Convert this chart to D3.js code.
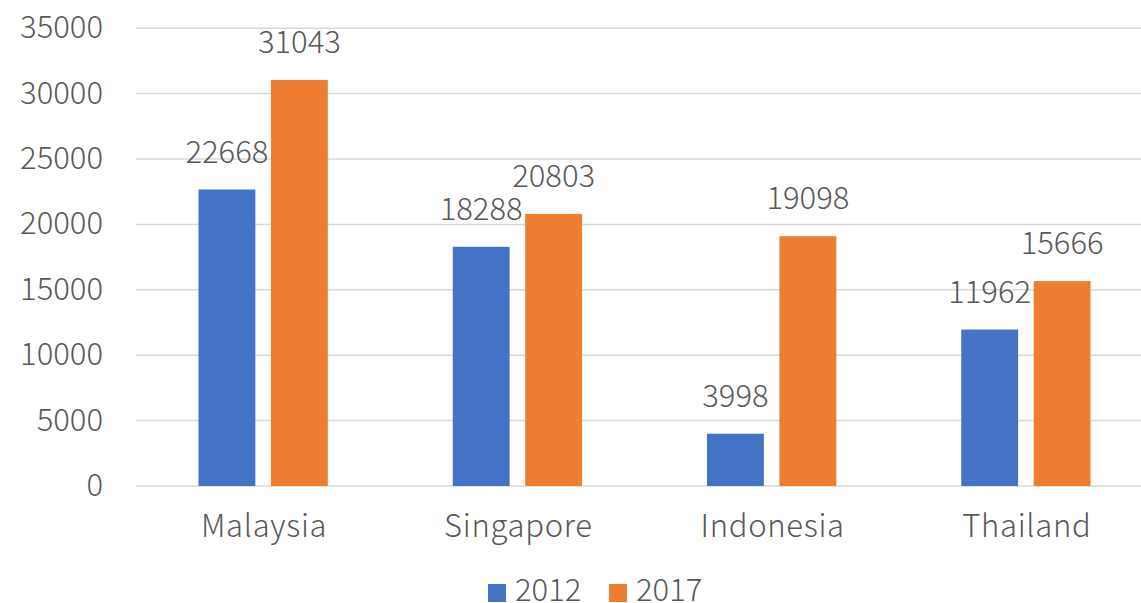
<!DOCTYPE html>
<html>
<head>
<meta charset="utf-8">
<script src="https://cdn.jsdelivr.net/npm/d3@7"></script>
<style>
  body { margin: 0; background: #fff; }
  text { font-family: "Noto Sans CJK JP", "Noto Sans", sans-serif; font-weight: 300; fill: #595959; }
</style>
</head>
<body>
<svg width="1141" height="603"></svg>
<script>
// data
const countries = ['Malaysia', 'Singapore', 'Indonesia', 'Thailand'];
const years = ['2012', '2017'];
const values2012 = [22668, 18288, 3998, 11962];
const values2017 = [31043, 20803, 19098, 15666];
const yTicks = [0, 5000, 10000, 15000, 20000, 25000, 30000, 35000];
const colors = ['#4472C4', '#ED7D31'];

const svg = d3.select('svg');
const fontSize = 31;

// plot area runs a little past the right edge of the picture
const x0 = d3.scaleBand()
  .domain(countries)
  .range([136, 1153]);

const x1 = d3.scaleBand()
  .domain(years)
  .range([62.5, 191.8])
  .paddingInner(0.215);

const y = d3.scaleLinear()
  .domain([0, 35000])
  .range([486, 28.2]);

// gridlines
svg.append('g')
  .selectAll('line')
  .data(yTicks)
  .join('line')
  .attr('x1', 136)
  .attr('x2', 1141)
  .attr('y1', d => y(d))
  .attr('y2', d => y(d))
  .style('stroke', '#d9d9d9')
  .style('stroke-width', 1.5);

// y tick labels
svg.append('g')
  .selectAll('text')
  .data(yTicks)
  .join('text')
  .attr('x', 103)
  .attr('y', d => y(d) + 10)
  .attr('text-anchor', 'end')
  .style('font-size', fontSize + 'px')
  .text(d => d);

// bars
const rows = countries.map((c, i) => ({
  country: c,
  vals: [values2012[i], values2017[i]]
}));

const groups = svg.append('g')
  .selectAll('g')
  .data(rows)
  .join('g')
  .attr('transform', d => `translate(${x0(d.country)},0)`);

groups.selectAll('rect')
  .data(d => d.vals.map((v, j) => ({year: years[j], v, j})))
  .join('rect')
  .attr('x', d => x1(d.year))
  .attr('width', x1.bandwidth())
  .attr('y', d => y(d.v))
  .attr('height', d => y(0) - y(d.v))
  .style('fill', d => colors[d.j]);

groups.selectAll('text.val')
  .data(d => d.vals.map((v, j) => ({year: years[j], v, j})))
  .join('text')
  .attr('class', 'val')
  .attr('x', d => x1(d.year) + x1.bandwidth() / 2)
  .attr('y', d => y(d.v) - 27)
  .attr('text-anchor', 'middle')
  .style('font-size', fontSize + 'px')
  .text(d => d.v);

// category labels
svg.append('g')
  .selectAll('text')
  .data(countries)
  .join('text')
  .attr('x', d => x0(d) + x0.bandwidth() / 2 + 1)
  .attr('y', 537)
  .attr('text-anchor', 'middle')
  .style('font-size', fontSize + 'px')
  .style('letter-spacing', '0.7px')
  .text(d => d);

// legend
const legend = svg.append('g');
const legendX = [488, 609];
years.forEach((yr, i) => {
  legend.append('rect')
    .attr('x', legendX[i])
    .attr('y', 584)
    .attr('width', 18)
    .attr('height', 18)
    .style('fill', colors[i]);
  legend.append('text')
    .attr('x', legendX[i] + 27)
    .attr('y', 601)
    .style('font-size', fontSize + 'px')
    .text(yr);
});
</script>
</body>
</html>
